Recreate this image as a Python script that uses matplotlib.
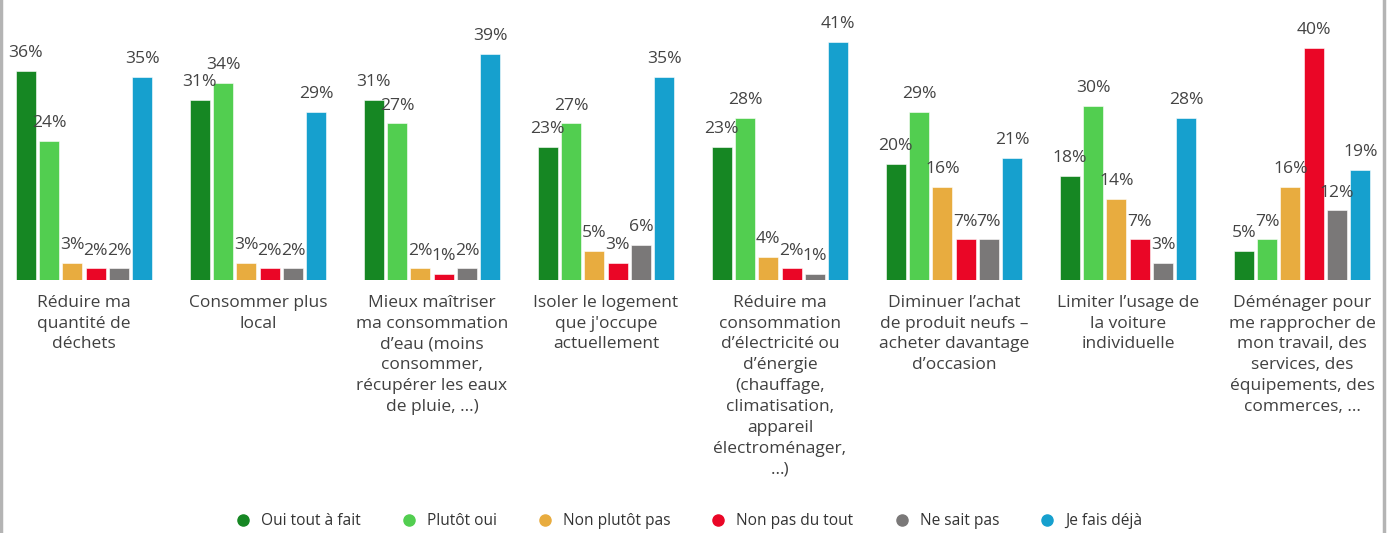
import matplotlib.pyplot as plt
from matplotlib.lines import Line2D
import numpy as np

# Data
categories = [
    "Réduire ma\nquantité de\ndéchets",
    "Consommer plus\nlocal",
    "Mieux maîtriser\nma consommation\nd’eau (moins\nconsommer,\nrécupérer les eaux\nde pluie, …)",
    "Isoler le logement\nque j'occupe\nactuellement",
    "Réduire ma\nconsommation\nd’électricité ou\nd’énergie\n(chauffage,\nclimatisation,\nappareil\nélectroménager,\n…)",
    "Diminuer l’achat\nde produit neufs –\nacheter davantage\nd’occasion",
    "Limiter l’usage de\nla voiture\nindividuelle",
    "Déménager pour\nme rapprocher de\nmon travail, des\nservices, des\néquipements, des\ncommerces, …",
]
series_names = ["Oui tout à fait", "Plutôt oui", "Non plutôt pas",
                "Non pas du tout", "Ne sait pas", "Je fais déjà"]
oui_tout_a_fait = [36, 31, 31, 23, 23, 20, 18, 5]
plutot_oui = [24, 34, 27, 27, 28, 29, 30, 7]
non_plutot_pas = [3, 3, 2, 5, 4, 16, 14, 16]
non_pas_du_tout = [2, 2, 1, 3, 2, 7, 7, 40]
ne_sait_pas = [2, 2, 2, 6, 1, 7, 3, 12]
je_fais_deja = [35, 29, 39, 35, 41, 21, 28, 19]
colors = ["#168723", "#52CE50", "#E8AC3F", "#EA0626", "#7A7878", "#16A0CE"]

series = [oui_tout_a_fait, plutot_oui, non_plutot_pas,
          non_pas_du_tout, ne_sait_pas, je_fais_deja]

plt.rcParams['font.family'] = ['Open Sans', 'DejaVu Sans']

fig = plt.figure(figsize=(13.88, 5.33), dpi=100)
ax = fig.add_axes([0, 1 - 280 / 533, 1, 280 / 533])

x = np.arange(len(categories))
width = 20 / 174
step = 23.3 / 174

for i, (vals, name, col) in enumerate(zip(series, series_names, colors)):
    pos = x + (i - 2.5) * step
    ax.bar(pos, vals, width=width, color=col, edgecolor='white', linewidth=0.4, label=name)
    for px, v in zip(pos, vals):
        ax.annotate(f"{v}%", (px, v), xytext=(0, 10), textcoords='offset points',
                    ha='center', va='baseline', fontsize=12.6, color='#444444')

for xi, cat in zip(x, categories):
    ax.annotate(cat, (xi, 0), xytext=(0, -10.5), textcoords='offset points',
                ha='center', va='top', fontsize=12.5, color='#404040',
                linespacing=1.41, annotation_clip=False)

ax.set_xlim(-84 / 174, (1388 - 84) / 174)
ax.set_ylim(0, 280 / 5.8)
ax.axis('off')

handles = [Line2D([], [], marker='o', linestyle='', markersize=8,
                  markerfacecolor=c, markeredgecolor=c) for c in colors]
fig.legend(handles, series_names, loc='center', bbox_to_anchor=(0.497, 1 - 521 / 533),
           ncol=6, frameon=False, fontsize=11.2, handlelength=0.7,
           handletextpad=0.8, columnspacing=2.75, labelcolor='#333333')

# grey frame edges on left and right
fig.add_artist(Line2D([0.001, 0.001], [0, 1], color='#b4b4b4', linewidth=2.5,
                      transform=fig.transFigure))
fig.add_artist(Line2D([1383.5 / 1388, 1383.5 / 1388], [0, 1], color='#b4b4b4',
                      linewidth=2.5, transform=fig.transFigure))

fig.savefig("out.png", dpi=100)
